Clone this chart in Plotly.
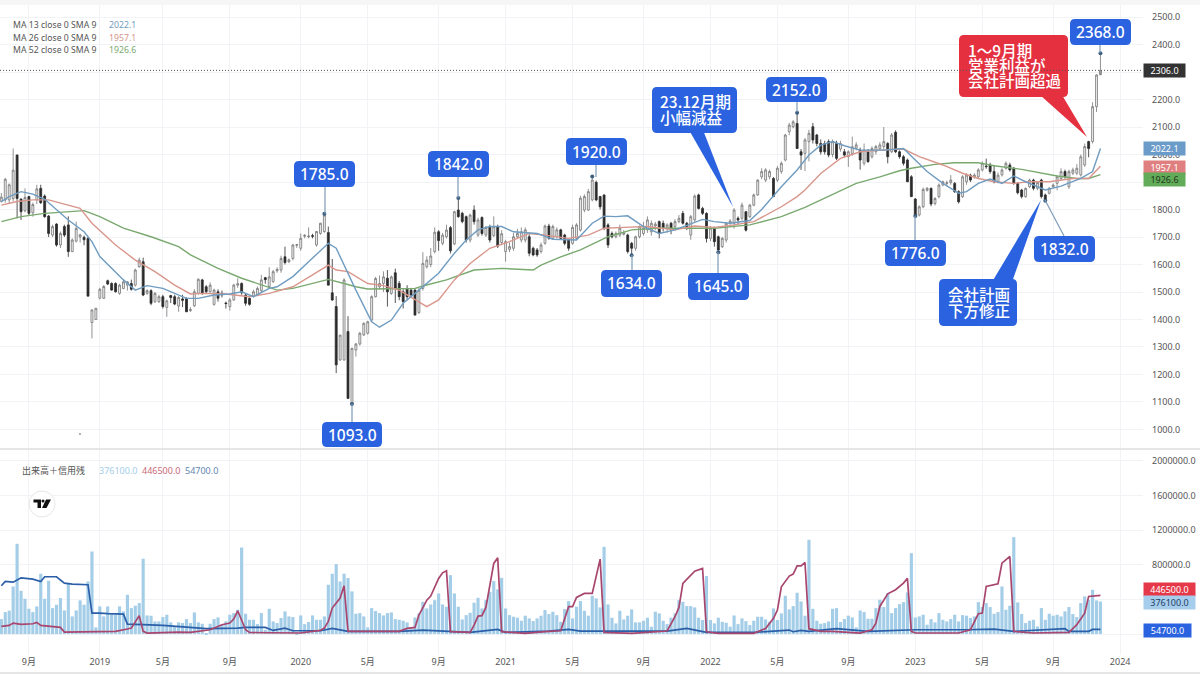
import plotly.graph_objects as go
from plotly.subplots import make_subplots

# weekly bars
opens = [1830,1835,1835,1840,1998,1838,1795,1847,1788,1835,
 1877,1849,1776,1707,1747,1671,1738,1744,1647,1685,
 1700,1699,1695,1389,1400,1478,1477,1541,1531,1531,
 1495,1513,1525,1531,1525,1592,1610,1495,1505,1465,
 1465,1483,1444,1487,1483,1449,1475,1477,1432,1450,
 1495,1544,1519,1501,1455,1501,1495,1460,1447,1471,
 1525,1531,1489,1477,1485,1489,1505,1552,1520,1538,
 1577,1580,1628,1610,1622,1670,1659,1703,1701,1705,
 1671,1713,1720,1716,1497,1447,1253,1253,1356,1093,
 1289,1311,1344,1350,1398,1483,1519,1531,1550,1495,
 1570,1531,1501,1513,1507,1507,1425,1513,1592,1600,
 1647,1719,1677,1701,1734,1675,1798,1786,1774,1689,
 1798,1707,1771,1707,1738,1705,1738,1680,1647,1655,
 1659,1701,1689,1689,1701,1659,1653,1647,1677,1740,
 1695,1701,1726,1707,1689,1677,1695,1725,1798,1798,
 1835,1899,1847,1853,1744,1713,1701,1707,1710,1707,
 1677,1659,1701,1713,1726,1719,1740,1756,1750,1732,
 1750,1738,1756,1786,1750,1707,1762,1853,1804,1786,
 1695,1732,1701,1665,1689,1750,1750,1768,1768,1792,
 1774,1816,1853,1919,1907,1919,1913,1907,1938,1980,
 2083,2101,2113,2010,2004,2047,2101,2071,2040,2040,
 2047,2000,2040,2020,2010,1992,2004,2023,2016,1968,
 2010,1992,2010,2022,2029,2040,2010,2081,2010,1992,
 1980,1919,1838,1780,1810,1870,1877,1822,1847,1889,
 1895,1898,1895,1865,1847,1901,1925,1919,1919,1944,
 1958,1962,1938,1901,1926,1950,1962,1950,1895,1871,
 1847,1883,1907,1877,1907,1853,1859,1883,1895,1913,
 1938,1883,1932,1932,1926,1962,2047,2047,2174,2290]
highs = [1860,1915,1895,2022,2000,1840,1877,1850,1825,1890,
 1890,1855,1780,1745,1750,1720,1745,1775,1695,1756,
 1712,1705,1700,1435,1441,1515,1525,1545,1535,1535,
 1530,1545,1540,1545,1585,1625,1625,1510,1510,1500,
 1490,1490,1472,1490,1490,1485,1490,1480,1445,1510,
 1550,1548,1525,1535,1512,1510,1505,1465,1478,1530,
 1550,1535,1495,1480,1508,1520,1562,1555,1590,1580,
 1590,1632,1665,1622,1675,1675,1713,1710,1735,1712,
 1722,1752,1783,1738,1620,1485,1345,1550,1412,1297,
 1315,1355,1390,1395,1488,1555,1560,1575,1580,1560,
 1585,1540,1510,1525,1515,1510,1515,1645,1630,1660,
 1735,1725,1715,1745,1740,1795,1842,1792,1778,1785,
 1815,1770,1775,1740,1745,1775,1745,1725,1690,1680,
 1715,1730,1735,1735,1710,1665,1660,1680,1745,1748,
 1745,1735,1730,1712,1695,1745,1750,1850,1855,1875,
 1920,1905,1850,1855,1750,1720,1720,1745,1725,1712,
 1682,1705,1742,1755,1775,1760,1755,1760,1760,1750,
 1755,1765,1780,1795,1755,1780,1855,1858,1810,1790,
 1740,1738,1705,1700,1755,1765,1805,1775,1825,1795,
 1820,1858,1910,1950,1950,1945,1918,1958,1975,2075,
 2115,2125,2152,2020,2060,2090,2115,2075,2055,2050,
 2055,2055,2050,2050,2020,2015,2065,2045,2025,2040,
 2020,2030,2035,2045,2100,2045,2078,2088,2015,1998,
 1985,1925,1842,1815,1880,1882,1880,1845,1895,1905,
 1905,1925,1900,1870,1925,1932,1930,1932,1950,1975,
 1985,1970,1962,1935,1950,1975,1970,1955,1900,1875,
 1880,1912,1912,1902,1912,1858,1882,1895,1925,1950,
 1945,1945,1952,1965,2000,2040,2050,2190,2292,2368]
lows = [1825,1825,1820,1830,1768,1762,1790,1780,1774,1820,
 1820,1770,1700,1700,1665,1660,1700,1628,1645,1680,
 1680,1670,1485,1331,1400,1473,1475,1525,1505,1498,
 1490,1510,1505,1505,1520,1588,1485,1490,1452,1460,
 1460,1440,1410,1460,1452,1428,1445,1428,1428,1445,
 1490,1490,1495,1498,1450,1465,1480,1440,1432,1468,
 1515,1490,1450,1450,1480,1485,1500,1530,1515,1533,
 1570,1570,1600,1605,1615,1660,1650,1695,1695,1695,
 1665,1708,1715,1525,1468,1205,1250,1250,1113,1093,
 1265,1305,1340,1345,1392,1480,1510,1500,1447,1490,
 1460,1470,1440,1470,1480,1415,1420,1505,1585,1590,
 1640,1650,1670,1695,1640,1670,1770,1750,1680,1680,
 1745,1700,1705,1700,1680,1700,1660,1670,1610,1645,
 1650,1695,1680,1680,1630,1630,1628,1640,1672,1690,
 1690,1695,1690,1670,1650,1672,1690,1720,1790,1795,
 1830,1830,1800,1725,1660,1695,1695,1700,1705,1640,
 1634,1650,1695,1705,1715,1705,1725,1695,1720,1715,
 1710,1730,1750,1745,1725,1690,1755,1800,1780,1680,
 1685,1665,1645,1660,1680,1745,1730,1745,1760,1720,
 1770,1812,1850,1910,1900,1910,1845,1900,1930,1975,
 2070,2095,2020,1944,1940,1975,2040,2030,2000,2000,
 1990,1990,1980,2010,1990,1955,1995,2015,1945,1960,
 1970,1985,2000,2015,2020,1968,2005,2005,1985,1960,
 1900,1845,1776,1775,1805,1865,1812,1815,1840,1885,
 1885,1890,1860,1822,1842,1890,1900,1912,1915,1938,
 1948,1930,1895,1895,1920,1945,1938,1890,1855,1840,
 1842,1878,1870,1870,1840,1832,1855,1878,1870,1905,
 1912,1875,1925,1925,1920,1955,1990,2040,2155,2300]
closes = [1845,1910,1890,1943,1840,1792,1844,1786,1818,1875,
 1825,1774,1713,1738,1671,1713,1707,1647,1689,1731,
 1708,1690,1485,1435,1441,1510,1520,1529,1507,1501,
 1525,1537,1537,1510,1580,1616,1489,1505,1459,1495,
 1483,1447,1468,1480,1456,1480,1470,1428,1436,1501,
 1546,1495,1501,1525,1507,1477,1490,1458,1471,1525,
 1530,1497,1459,1455,1501,1513,1544,1545,1555,1574,
 1582,1622,1607,1617,1671,1672,1695,1706,1703,1703,
 1720,1750,1780,1525,1471,1235,1343,1544,1113,1295,
 1311,1350,1386,1392,1483,1549,1531,1555,1501,1555,
 1513,1483,1465,1483,1489,1416,1507,1604,1616,1631,
 1717,1687,1707,1725,1650,1792,1774,1756,1689,1780,
 1756,1762,1713,1735,1689,1737,1667,1712,1683,1665,
 1701,1713,1719,1726,1641,1635,1635,1671,1740,1695,
 1738,1726,1695,1677,1659,1735,1744,1841,1847,1865,
 1907,1835,1810,1732,1671,1701,1713,1732,1716,1647,
 1659,1701,1738,1732,1762,1750,1747,1713,1735,1744,
 1725,1756,1768,1750,1732,1774,1849,1804,1786,1695,
 1732,1683,1653,1695,1750,1758,1798,1762,1816,1725,
 1816,1853,1907,1938,1944,1938,1847,1950,1968,2071,
 2107,2119,2022,1998,2053,2077,2053,2040,2010,2010,
 1998,2047,1986,2040,1998,2010,2028,2035,1980,2016,
 1974,2022,2029,2035,2047,1992,2071,2010,1992,1968,
 1901,1847,1780,1810,1873,1877,1820,1840,1889,1901,
 1897,1907,1865,1828,1919,1925,1907,1925,1944,1968,
 1956,1938,1901,1925,1944,1968,1944,1895,1861,1847,
 1877,1907,1877,1898,1847,1835,1877,1889,1919,1938,
 1919,1938,1944,1950,1992,2029,2022,2174,2289,2306]
volume = [173,254,270,550,1043,500,408,292,254,320,
 697,408,616,300,339,416,273,589,204,273,
 389,339,608,954,77,320,204,320,242,223,
 320,262,454,300,327,358,870,215,212,146,
 146,196,223,135,88,135,127,173,127,250,
 135,119,12,119,173,192,108,146,223,242,
 281,1000,235,165,165,115,242,50,292,146,
 127,185,262,204,196,20,215,115,139,215,
 165,165,204,570,697,808,608,697,647,493,
 235,242,204,77,300,266,242,215,242,250,
 173,165,154,135,65,192,239,373,296,342,
 392,469,342,316,681,469,316,169,219,246,
 362,419,296,392,489,612,516,650,296,219,
 200,189,154,212,181,150,181,212,277,231,
 258,219,142,289,381,181,316,381,269,212,
 443,412,308,1008,342,189,123,269,169,212,
 285,135,135,154,189,85,258,239,154,115,
 189,239,392,373,323,323,308,189,162,670,
 162,123,189,142,131,85,215,115,181,150,
 104,154,200,200,169,142,296,162,239,443,
 285,323,477,377,212,1089,292,154,119,127,
 146,292,300,139,173,212,192,77,273,254,
 177,177,300,396,312,473,242,300,346,369,
 481,935,192,204,223,108,173,135,242,165,
 146,173,223,146,219,212,185,204,369,312,
 358,312,235,254,550,281,327,1120,366,231,
 127,154,165,88,300,165,235,212,223,204,
 262,312,231,196,358,435,396,512,389,376.1]

# moving averages, read at the bends only
ma13_bar = [0,2,5,8,11,14,17,21,23,25,29,31,34,37,41,47,50,54,58,61,64,68,70,74,78,83,85,87,90,94,96,99,102,105,107,111,115,118,121,124,127,130,136,140,146,150,153,156,159,163,167,171,178,181,185,190,193,198,202,205,208,211,214,218,224,229,232,235,239,243,245,248,251,254,257,260,265,269,274,277,279]
ma13 = [1829,1847,1865,1856,1837,1798,1762,1719,1683,1629,1574,1544,1507,1523,1513,1477,1477,1489,1493,1501,1483,1513,1519,1556,1610,1677,1659,1598,1507,1392,1372,1398,1459,1495,1519,1568,1641,1689,1726,1738,1738,1719,1713,1692,1689,1750,1776,1774,1777,1738,1713,1726,1764,1756,1750,1760,1800,1883,1944,1998,2034,2047,2032,2016,2016,2022,1980,1938,1895,1859,1865,1895,1911,1895,1922,1901,1871,1885,1913,1938,2022]
ma26_bar = [0,4,8,12,20,23,29,34,39,44,48,51,57,63,68,74,79,83,85,88,93,97,101,105,108,111,115,119,124,129,134,138,144,149,153,158,164,171,176,181,186,191,198,202,204,208,213,218,223,229,233,239,244,248,252,257,261,266,272,276,279]
ma26 = [1816,1829,1835,1835,1804,1750,1671,1616,1574,1525,1493,1495,1493,1483,1495,1519,1562,1598,1580,1574,1531,1523,1507,1471,1447,1471,1544,1604,1659,1683,1713,1707,1695,1707,1732,1735,1738,1726,1740,1735,1744,1756,1810,1847,1871,1931,1986,2010,2016,2020,1992,1962,1932,1913,1901,1895,1901,1901,1913,1913,1957]
ma52_bar = [0,5,11,17,21,25,31,38,45,48,55,61,66,70,74,79,83,87,90,93,100,105,107,113,120,127,135,137,142,147,154,160,166,173,181,190,193,198,204,210,217,223,228,231,237,242,248,252,259,268,273,276,279]
ma52 = [1756,1774,1786,1792,1796,1774,1732,1701,1665,1635,1586,1550,1525,1507,1513,1532,1546,1531,1519,1511,1513,1513,1522,1544,1580,1586,1580,1598,1628,1653,1701,1726,1732,1732,1732,1744,1756,1774,1808,1847,1895,1919,1941,1950,1964,1970,1970,1959,1946,1922,1913,1913,1927]

# margin balances, read at the bends only
sell_bar = [0,2,3,5,8,9,10,12,15,16,20,25,29,32,33,35,36,37,41,45,48,53,56,58,59,60,62,63,68,72,76,81,82,83,84,86,87,88,101,103,105,106,108,109,111,112,113,114,119,120,121,122,123,125,126,127,133,138,142,144,145,146,148,150,151,152,153,160,169,171,172,173,176,178,179,182,191,194,196,197,198,200,201,202,203,204,205,208,211,218,221,222,223,225,227,229,230,231,232,243,246,248,249,250,253,254,256,257,262,271,273,275,276,279]
sell_bal = [88,100,127,112,119,135,100,88,77,23,23,23,31,58,69,212,31,12,19,23,19,50,108,127,173,269,50,19,15,12,12,42,69,146,300,416,558,31,31,65,77,219,392,439,643,708,731,27,19,104,208,212,308,816,881,27,8,27,38,316,316,423,469,469,681,866,19,8,35,200,308,585,727,758,27,8,8,65,181,277,546,670,693,789,789,827,62,31,31,12,50,127,319,465,512,589,643,31,12,12,50,235,242,550,581,820,897,31,12,19,108,242,435,446.5]
buy_bar = [0,1,3,5,8,10,11,14,16,18,22,23,25,27,31,32,36,41,47,52,60,62,67,69,72,74,81,84,88,101,107,119,126,128,139,144,147,153,160,169,174,179,191,200,201,203,205,212,220,232,245,252,257,264,270,271,276,277,279]
buy_bal = [558,608,600,650,635,608,662,662,589,577,570,242,242,235,231,115,108,100,81,62,69,77,77,42,69,38,38,65,31,31,46,19,54,19,35,54,35,35,42,35,65,19,19,46,27,42,31,62,31,50,50,58,31,50,62,31,31,54,54.7]

tick_bars = [7,25,41,58,76,93,111,128,145,163,180,197,215,232,249,267,284]
tick_labels = ["9月","2019","5月","9月","2020","5月","9月","2021","5月","9月","2022","5月","9月","2023","5月","9月","2024"]

peak_bars = [82,89,116,150,160,182,202,232,265,279]
peak_prices = [1785,1093,1842,1920,1634,1645,2152,1776,1832,2368]

bars = list(range(len(closes)))
FONT = "Noto Sans, Noto Sans CJK JP"
CJK = "Noto Sans CJK JP"
BLUE = "#2a62e0"
RED = "#e4303f"
GRID = "#f1f3f7"


def px(x):
    return x / 1200


def py(y):
    return 1 - y / 675


def rounded(x0, y0, x1, y1, r=5):
    return (f"M {px(x0+r)} {py(y0)} L {px(x1-r)} {py(y0)} Q {px(x1)} {py(y0)} {px(x1)} {py(y0+r)} "
            f"L {px(x1)} {py(y1-r)} Q {px(x1)} {py(y1)} {px(x1-r)} {py(y1)} "
            f"L {px(x0+r)} {py(y1)} Q {px(x0)} {py(y1)} {px(x0)} {py(y1-r)} "
            f"L {px(x0)} {py(y0+r)} Q {px(x0)} {py(y0)} {px(x0+r)} {py(y0)} Z")


fig = make_subplots(rows=2, cols=1, shared_xaxes=True)

fig.add_trace(go.Candlestick(x=bars, open=opens, high=highs, low=lows, close=closes,
                             increasing=dict(line=dict(color="#777777", width=0.8), fillcolor="#efefef"),
                             decreasing=dict(line=dict(color="#2b2b2b", width=0.8), fillcolor="#2b2b2b"),
                             whiskerwidth=0, showlegend=False), row=1, col=1)
fig.add_trace(go.Scatter(x=ma52_bar, y=ma52, mode="lines", line=dict(color="#79a96f", width=1.4)), row=1, col=1)
fig.add_trace(go.Scatter(x=ma26_bar, y=ma26, mode="lines", line=dict(color="#d9968c", width=1.4)), row=1, col=1)
fig.add_trace(go.Scatter(x=ma13_bar, y=ma13, mode="lines", line=dict(color="#6f9cc0", width=1.4)), row=1, col=1)
fig.add_trace(go.Scatter(x=peak_bars, y=peak_prices, mode="markers",
                         marker=dict(color="#3f5f80", size=4)), row=1, col=1)

fig.add_trace(go.Bar(x=bars, y=[v * 1000 for v in volume], marker=dict(color="#a4cde8", line=dict(width=0))), row=2, col=1)
fig.add_trace(go.Scatter(x=buy_bar, y=[v * 1000 for v in buy_bal], mode="lines", line=dict(color="#2b5fa8", width=1.7)), row=2, col=1)
fig.add_trace(go.Scatter(x=sell_bar, y=[v * 1000 for v in sell_bal], mode="lines", line=dict(color="#a8466e", width=1.7)), row=2, col=1)

shapes = []
annotations = []


def text(x, y, s, size=10, color="#555555", anchor="left", family=FONT, weight=None, bg=None, w=None, h=None, align=None):
    annotations.append(dict(x=px(x), y=py(y), xref="paper", yref="paper", text=s, showarrow=False,
                            xanchor=anchor, yanchor="middle", align=align or anchor,
                            font=dict(size=size, color=color, family=family, weight=weight),
                            bgcolor=bg, width=w, height=h, borderpad=0))


def callout(x0, y0, x1, y1, label, color=BLUE):
    shapes.append(dict(type="path", xref="paper", yref="paper", path=rounded(x0, y0, x1, y1),
                       fillcolor=color, line=dict(width=0), layer="above"))
    text((x0 + x1) / 2, (y0 + y1) / 2, label, size=15.5, color="#ffffff", anchor="center", weight=500)


def stem(x0, y0, x1, y1):
    shapes.append(dict(type="line", xref="paper", yref="paper", x0=px(x0), y0=py(y0), x1=px(x1), y1=py(y1),
                       line=dict(color="#7f9cb8", width=1.2), layer="above"))


def tail(points, color):
    d = "M " + " L ".join(f"{px(a)} {py(b)}" for a, b in points) + " Z"
    shapes.append(dict(type="path", xref="paper", yref="paper", path=d, fillcolor=color,
                       line=dict(width=0), layer="above"))


# value boxes
stem(325, 187, 325, 214)
callout(294, 161, 355, 187, "1785.0")
stem(352, 404, 352, 422)
callout(322, 422, 382, 447, "1093.0")
stem(458, 177, 458, 198)
callout(428, 151, 489, 177, "1842.0")
stem(596, 165, 596, 177)
callout(566, 138, 627, 165, "1920.0")
stem(632, 255, 632, 270)
callout(601, 270, 662, 297, "1634.0")
stem(718, 252, 718, 273)
callout(688, 273, 749, 300, "1645.0")
stem(797, 102, 797, 112)
callout(766, 77, 827, 102, "2152.0")
stem(1100, 45, 1100, 53)
callout(1070, 19, 1131, 45, "2368.0")
stem(915, 216, 915, 240)
callout(885, 240, 946, 266, "1776.0")
stem(1045, 200, 1064, 236)
callout(1034, 236, 1095, 262, "1832.0")

# speech bubbles
tail([(689, 130), (703, 130), (733, 207)], BLUE)
shapes.append(dict(type="path", xref="paper", yref="paper", path=rounded(652, 87, 737, 133), fillcolor=BLUE,
                   line=dict(width=0), layer="above"))
text(659, 101, "23.12月期", size=15.5, color="#ffffff", family=CJK, weight=500)
text(659, 117, "小幅減益", size=15.5, color="#ffffff", family=CJK, weight=500)

tail([(992, 282), (1012, 282), (1041, 200)], BLUE)
shapes.append(dict(type="path", xref="paper", yref="paper", path=rounded(939, 279, 1017, 326), fillcolor=BLUE,
                   line=dict(width=0), layer="above"))
text(947, 294, "会社計画", size=15.5, color="#ffffff", family=CJK, weight=500)
text(947, 310, "下方修正", size=15.5, color="#ffffff", family=CJK, weight=500)

tail([(1040, 95), (1062, 95), (1087, 137)], RED)
shapes.append(dict(type="path", xref="paper", yref="paper", path=rounded(959, 35, 1068, 97), fillcolor=RED,
                   line=dict(width=0), layer="above"))
text(967, 50, "1〜9月期", size=15.5, color="#ffffff", family=CJK, weight=500)
text(967, 65, "営業利益が", size=15.5, color="#ffffff", family=CJK, weight=500)
text(967, 80, "会社計画超過", size=15.5, color="#ffffff", family=CJK, weight=500)

# legends
for y, label, val, col in [(25, "MA 13 close 0 SMA 9", "2022.1", "#6f9cc0"),
                           (38, "MA 26 close 0 SMA 9", "1957.1", "#d9968c"),
                           (50, "MA 52 close 0 SMA 9", "1926.6", "#79a96f")]:
    text(12, y, label, size=8.7, color="#555555")
    text(108, y, val, size=8.7, color=col)
text(21, 470, "出来高＋信用残", size=9, color="#555555", family=CJK)
text(98, 470, "376100.0", size=9, color="#a4cde8")
text(141, 470, "446500.0", size=9, color="#c96a78")
text(184, 470, "54700.0", size=9, color="#5f86b0")

# last value tags on the right axis
for y, s, bg, col in [(70, "2306.0", "#333333", "#ffffff"), (149, "2022.1", "#6b9bc9", "#ffffff"),
                      (167, "1957.1", "#e07f7f", "#ffffff"), (180, "1926.6", "#62ab58", "#1f3a1f")]:
    text(1143, y, s, size=9, color=col, bg=bg, w=41, h=13, align="center")
for y, s, bg, col, w in [(589, "446500.0", "#e5394a", "#ffffff", 51), (602, "376100.0", "#a6cdec", "#1f3f66", 51),
                         (630, "54700.0", BLUE, "#ffffff", 47)]:
    text(1143, y, s, size=9, color=col, bg=bg, w=w, h=13, align="center")

# last price line
shapes.append(dict(type="line", xref="x domain", yref="y", x0=0, x1=1, y0=closes[-1], y1=closes[-1],
                   line=dict(color="#555555", width=1, dash="1px,2px")))
# pane borders
shapes.append(dict(type="rect", xref="paper", yref="paper", x0=0, x1=1, y0=py(5), y1=1,
                   fillcolor="#f6f6f6", line=dict(width=0)))
shapes.append(dict(type="line", xref="paper", yref="paper", x0=0, x1=1, y0=py(449), y1=py(449),
                   line=dict(color="#e6e6e6", width=2)))
shapes.append(dict(type="line", xref="paper", yref="paper", x0=0, x1=1, y0=py(673), y1=py(673),
                   line=dict(color="#e6e6e6", width=2)))

# logo
shapes.append(dict(type="circle", xref="paper", yref="paper", x0=px(29), x1=px(55), y0=py(491), y1=py(517),
                   fillcolor="#ffffff", line=dict(color="#e8e8e8", width=1), layer="above"))
tail([(33.5, 499.5), (41, 499.5), (41, 508), (37.5, 508), (37.5, 502.5), (33.5, 502.5)], "#111111")
tail([(46, 499.5), (51, 499.5), (46.5, 508), (42, 508)], "#111111")
shapes.append(dict(type="circle", xref="paper", yref="paper", x0=px(41.5), x1=px(44.5), y0=py(499.5), y1=py(502.5),
                   fillcolor="#111111", line=dict(width=0), layer="above"))
# stray dot in the price pane
shapes.append(dict(type="circle", xref="paper", yref="paper", x0=px(79.3), x1=px(80.7), y0=py(433.3), y1=py(434.7),
                   fillcolor="#333333", line=dict(width=0)))

fig.update_layout(width=1200, height=675, margin=dict(l=0, r=0, t=0, b=0), paper_bgcolor="white",
                  plot_bgcolor="white", showlegend=False, bargap=0.2, shapes=shapes, annotations=annotations,
                  font=dict(family=FONT, size=9, color="#555555"), hovermode=False)
fig.update_xaxes(range=[-0.34, 289.8], domain=[0, 1143 / 1200], tickmode="array", tickvals=tick_bars,
                 showgrid=True, gridcolor=GRID, zeroline=False, showline=False, ticks="",
                 rangeslider_visible=False)
fig.update_xaxes(ticktext=tick_labels, tickfont=dict(size=9, color="#555555"), row=2, col=1)
fig.update_yaxes(domain=[226 / 675, 1], range=[929, 2562], side="right", tickmode="array",
                 tickvals=list(range(1000, 2600, 100)), tickformat=".1f", showgrid=True, gridcolor=GRID,
                 zeroline=False, showline=False, ticks="", ticklabelstandoff=8, row=1, col=1)
fig.update_yaxes(domain=[20 / 675, 225 / 675], range=[-242000, 2127000], side="right", tickmode="array",
                 tickvals=[0, 400000, 800000, 1200000, 1600000, 2000000], tickformat=".1f", showgrid=True,
                 gridcolor=GRID, zeroline=False, showline=False, ticks="", ticklabelstandoff=8, row=2, col=1)

# the browser's default body margin would push the chart 8px off
fig.write_html("out.html", config={"displayModeBar": False}, post_script="document.body.style.margin='0';")
